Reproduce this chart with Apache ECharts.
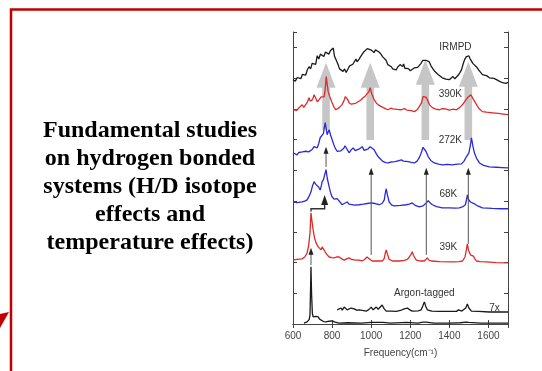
<!DOCTYPE html>
<html>
<head>
<meta charset="utf-8">
<script src="https://cdn.jsdelivr.net/npm/echarts@6/dist/echarts.min.js"></script>
<style>
html, body { margin: 0; padding: 0; background: #fff; }
#chart { width: 542px; height: 371px; }
</style>
</head>
<body>
<div id="chart"></div>
<script>
// x: frequency (cm-1), y: stacked intensity (arb. units, traces already offset)
const freqTicks = [600, 800, 1000, 1200, 1400, 1600]

const irmpd = [[600,7.95],[612,7.90],[622,8.02],[631,8.05],[640,7.98],[648,8.12],[657,8.18],[665,8.10],[674,8.28],[682,8.37],[690,8.30],[698,8.48],[708,8.53],[716,8.45],[724,8.73],[732,8.62],[740,8.78],[750,8.76],[758,8.70],[766,8.85],[775,8.83],[783,8.78],[792,8.90],[800,8.86],[806,8.98],[812,8.72],[820,8.70],[830,8.45],[838,8.30],[846,8.27],[856,8.22],[864,8.30],[872,8.18],[880,8.28],[890,8.40],[897,8.37],[906,8.45],[915,8.50],[922,8.62],[928,8.53],[938,8.62],[946,8.70],[954,8.76],[962,8.85],[970,8.88],[980,8.96],[990,8.99],[998,8.92],[1006,8.86],[1015,8.83],[1022,8.92],[1031,8.96],[1040,8.85],[1050,8.78],[1058,8.70],[1067,8.66],[1076,8.58],[1085,8.44],[1094,8.40],[1103,8.37],[1110,8.30],[1118,8.34],[1128,8.27],[1136,8.36],[1142,8.30],[1148,8.44],[1154,8.50],[1160,8.38],[1166,8.46],[1172,8.32],[1180,8.27],[1190,8.31],[1200,8.24],[1210,8.27],[1220,8.33],[1230,8.29],[1238,8.35],[1246,8.37],[1255,8.48],[1264,8.58],[1272,8.63],[1280,8.58],[1288,8.60],[1297,8.53],[1306,8.40],[1316,8.30],[1325,8.22],[1333,8.18],[1342,8.12],[1352,8.06],[1364,8.01],[1372,8.04],[1382,7.97],[1392,8.00],[1400,7.95],[1410,7.99],[1418,8.05],[1428,7.98],[1436,8.01],[1446,8.10],[1454,8.18],[1462,8.27],[1470,8.45],[1478,8.60],[1487,8.70],[1494,8.64],[1500,8.72],[1507,8.62],[1513,8.60],[1520,8.48],[1528,8.52],[1538,8.37],[1548,8.28],[1558,8.20],[1569,8.11],[1578,8.06],[1590,8.08],[1605,8.01],[1615,7.97],[1628,7.99],[1641,7.95],[1655,7.90],[1665,7.92],[1672,7.85],[1682,7.88],[1690,7.83],[1700,7.86]]

const k390 = [[600,6.97],[610,7.00],[620,6.95],[631,7.04],[640,7.00],[647,7.13],[655,7.05],[662,7.07],[672,7.20],[682,7.36],[688,7.25],[693,7.20],[700,7.30],[708,7.46],[716,7.35],[724,7.23],[734,7.30],[744,7.39],[752,7.34],[759,7.39],[764,7.60],[770,8.05],[775,7.80],[780,7.56],[788,7.40],[800,7.20],[810,7.05],[820,6.97],[828,7.02],[836,7.04],[844,7.10],[850,7.13],[860,7.25],[868,7.40],[872,7.46],[880,7.30],[887,7.20],[898,7.15],[908,7.13],[920,7.18],[933,7.23],[946,7.28],[959,7.36],[970,7.42],[980,7.46],[988,7.55],[995,7.69],[1002,7.50],[1015,7.30],[1025,7.20],[1036,7.13],[1050,7.08],[1062,7.04],[1075,7.00],[1087,6.97],[1100,7.02],[1112,7.00],[1122,7.04],[1135,6.98],[1145,7.02],[1154,6.97],[1170,7.01],[1182,6.96],[1190,7.00],[1205,6.94],[1221,6.91],[1235,6.97],[1246,7.07],[1258,7.20],[1265,7.40],[1272,7.46],[1280,7.38],[1287,7.30],[1300,7.12],[1313,7.04],[1330,6.99],[1349,6.97],[1365,7.01],[1380,7.00],[1400,6.96],[1420,6.99],[1436,6.97],[1452,7.04],[1467,7.13],[1480,7.25],[1492,7.36],[1502,7.42],[1510,7.46],[1520,7.34],[1533,7.20],[1550,7.02],[1569,6.91],[1590,6.89],[1620,6.87],[1650,6.85],[1675,6.83],[1700,6.81]]

const k272 = [[600,5.57],[610,5.52],[621,5.50],[630,5.58],[640,5.64],[648,5.60],[657,5.57],[665,5.62],[672,5.67],[680,5.60],[688,5.57],[698,5.68],[708,5.77],[716,5.72],[724,5.73],[732,5.88],[739,6.06],[744,6.02],[749,6.00],[756,6.20],[760,6.40],[765,6.55],[770,6.35],[775,6.16],[780,6.25],[785,6.32],[792,6.15],[800,6.00],[808,5.85],[815,5.73],[826,5.62],[836,5.57],[844,5.63],[851,5.67],[860,5.72],[866,5.80],[872,5.80],[880,5.65],[887,5.57],[897,5.66],[908,5.73],[918,5.64],[928,5.60],[940,5.70],[954,5.77],[964,5.65],[974,5.60],[985,5.70],[995,5.77],[1005,5.72],[1015,5.67],[1025,5.55],[1036,5.44],[1050,5.35],[1062,5.28],[1075,5.25],[1087,5.24],[1100,5.27],[1110,5.26],[1122,5.28],[1138,5.31],[1154,5.34],[1165,5.30],[1175,5.33],[1190,5.28],[1205,5.26],[1221,5.24],[1235,5.30],[1246,5.41],[1258,5.60],[1265,5.75],[1272,5.80],[1280,5.62],[1292,5.44],[1305,5.32],[1323,5.24],[1345,5.20],[1364,5.18],[1390,5.19],[1415,5.18],[1440,5.20],[1462,5.21],[1475,5.30],[1487,5.44],[1500,5.57],[1507,5.80],[1513,6.06],[1520,5.80],[1528,5.57],[1540,5.38],[1554,5.24],[1575,5.16],[1605,5.11],[1640,5.10],[1670,5.09],[1700,5.08]]

const k68 = [[600,3.97],[620,3.95],[646,3.97],[660,4.00],[672,4.04],[682,4.15],[692,4.30],[700,4.50],[708,4.63],[716,4.55],[724,4.53],[732,4.45],[739,4.36],[745,4.50],[749,4.63],[756,4.70],[762,4.85],[769,5.02],[775,4.75],[785,4.46],[792,4.28],[800,4.14],[810,4.06],[820,4.04],[826,4.08],[831,4.10],[840,3.97],[851,3.88],[862,3.92],[870,3.98],[877,3.97],[887,3.90],[897,3.88],[915,3.87],[938,3.88],[960,3.90],[980,3.92],[1000,3.94],[1020,3.92],[1041,3.88],[1056,3.92],[1067,4.04],[1072,4.25],[1077,4.40],[1083,4.20],[1092,3.97],[1105,3.87],[1118,3.84],[1150,3.86],[1180,3.88],[1195,3.90],[1210,3.94],[1225,3.86],[1246,3.81],[1265,3.84],[1282,3.94],[1292,4.01],[1302,3.94],[1313,3.88],[1335,3.82],[1364,3.78],[1400,3.78],[1430,3.77],[1451,3.78],[1470,3.82],[1482,3.88],[1488,4.05],[1492,4.20],[1498,4.05],[1508,3.97],[1518,3.94],[1528,3.91],[1545,3.84],[1569,3.78],[1620,3.76],[1660,3.75],[1700,3.75]]

const k39 = [[600,2.08],[620,2.10],[646,2.12],[660,2.18],[672,2.31],[680,2.55],[687,2.96],[692,3.62],[697,3.35],[703,3.06],[710,2.80],[718,2.64],[724,2.60],[729,2.51],[736,2.47],[744,2.41],[749,2.51],[756,2.45],[764,2.35],[775,2.25],[785,2.18],[798,2.16],[810,2.15],[822,2.18],[836,2.18],[850,2.12],[862,2.08],[875,2.12],[887,2.15],[900,2.10],[920,2.08],[938,2.08],[954,2.05],[966,2.10],[979,2.18],[990,2.12],[1005,2.05],[1030,2.05],[1056,2.05],[1066,2.12],[1072,2.30],[1077,2.41],[1083,2.28],[1092,2.10],[1110,2.05],[1144,2.05],[1170,2.07],[1185,2.10],[1195,2.18],[1203,2.26],[1210,2.35],[1217,2.22],[1231,2.08],[1250,2.05],[1272,2.05],[1280,2.10],[1287,2.15],[1295,2.08],[1308,2.05],[1350,2.03],[1415,2.02],[1450,2.03],[1467,2.05],[1480,2.18],[1487,2.41],[1492,2.61],[1498,2.40],[1508,2.25],[1516,2.24],[1523,2.21],[1530,2.12],[1538,2.05],[1560,2.03],[1590,2.02],[1640,2.00],[1700,1.99]]

const argon = [[656,0.03],[672,0.07],[683,0.15],[687,0.30],[690,1.20],[692,1.86],[695,1.00],[699,0.35],[703,0.23],[710,0.20],[718,0.25],[724,0.26],[729,0.23],[736,0.16],[744,0.10],[756,0.08],[769,0.07],[785,0.09],[800,0.10],[815,0.06],[836,0.03],[880,0.04],[950,0.03],[1000,0.05],[1060,0.05],[1100,0.03],[1180,0.05],[1240,0.03],[1264,0.06],[1272,0.12],[1280,0.06],[1320,0.03],[1400,0.03],[1455,0.04],[1485,0.06],[1492,0.10],[1500,0.05],[1560,0.03],[1640,0.03],[1700,0.03]]

const argon7x = [[826,0.46],[836,0.50],[846,0.52],[852,0.45],[862,0.55],[870,0.50],[877,0.46],[887,0.50],[897,0.52],[905,0.47],[913,0.49],[925,0.45],[938,0.46],[955,0.44],[974,0.42],[986,0.46],[1000,0.55],[1010,0.46],[1018,0.50],[1026,0.55],[1036,0.48],[1046,0.52],[1056,0.62],[1066,0.50],[1077,0.42],[1100,0.42],[1128,0.41],[1150,0.44],[1169,0.49],[1185,0.52],[1198,0.46],[1210,0.42],[1240,0.43],[1256,0.46],[1265,0.60],[1272,0.72],[1279,0.58],[1287,0.46],[1310,0.42],[1349,0.41],[1400,0.41],[1436,0.41],[1447,0.46],[1456,0.52],[1464,0.42],[1472,0.42],[1484,0.52],[1492,0.65],[1500,0.52],[1513,0.42],[1550,0.41],[1605,0.39],[1650,0.39],[1700,0.39]]

// [freq, from, to]
const greyArrows = [[769,6.32,8.50],[995,5.99,8.50],[1277,5.99,8.60],[1497,5.99,8.53]]
const thinArrows = [[769,5.11,5.77],[1000,2.25,5.08],[1282,2.25,5.08],[1497,2.61,5.08],[692,1.92,2.48]]
const stepArrow = [[692,3.66],[692,3.75],[762,3.75],[762,4.20]]

const traceLabels = [[1431,8.99,'IRMPD'],[1405,7.46,'390K'],[1405,5.99,'272K'],[1395,4.23,'68K'],[1395,2.51,'39K'],[1272,1.01,'Argon-tagged'],[1631,0.52,'7x']]

const titleLines = ['Fundamental studies', 'on hydrogen bonded', 'systems (H/D isotope', 'effects and', 'temperature effects)']

const chart = echarts.init(document.getElementById('chart'))

const trace = (data, color) => ({
  type: 'line',
  data: data,
  showSymbol: false,
  symbol: 'none',
  z: 3,
  lineStyle: { color: color, width: 1.3 },
  animation: false
})

const axisCommon = {
  type: 'value',
  axisLine: { show: true, lineStyle: { color: '#444', width: 1 } },
  axisTick: { show: true, inside: true, length: 4, lineStyle: { color: '#444' } },
  splitLine: { show: false }
}

const option = {
  animation: false,
  grid: { left: 293, top: 32, right: 34, bottom: 47 },
  xAxis: [
    {
      ...axisCommon,
      min: 600,
      max: 1700,
      interval: 200,
      position: 'bottom',
      axisLabel: {
        color: '#444',
        fontSize: 10,
        fontFamily: 'Liberation Sans',
        margin: 7,
        showMaxLabel: false,
        formatter: v => (freqTicks.includes(v) ? String(v) : '')
      },
      name: 'Frequency(cm⁻¹)',
      nameLocation: 'middle',
      nameGap: 24,
      nameTextStyle: { color: '#444', fontSize: 10, fontFamily: 'Liberation Sans' }
    },
    {
      ...axisCommon,
      min: 600,
      max: 1700,
      interval: 200,
      position: 'top',
      axisLabel: { show: false }
    }
  ],
  yAxis: [
    { ...axisCommon, min: 0, max: 9.5, interval: 1, position: 'left', axisLabel: { show: false } },
    { ...axisCommon, min: 0, max: 9.5, interval: 1, position: 'right', axisLabel: { show: false } }
  ],
  series: [
    {
      // broad grey arrows behind the traces
      type: 'custom',
      z: 1,
      data: greyArrows,
      encode: { x: 0, y: [1, 2] },
      renderItem: (params, api) => {
        const a = api.coord([api.value(0), api.value(1)])
        const b = api.coord([api.value(0), api.value(2)])
        const x = a[0]
        const hy = b[1] + 25
        return {
          type: 'polygon',
          shape: { points: [[x - 3.8, a[1]], [x - 3.8, hy], [x - 9.5, hy], [x, b[1]], [x + 9.5, hy], [x + 3.8, hy], [x + 3.8, a[1]]] },
          style: { fill: '#c6c6c6' }
        }
      }
    },
    trace(irmpd, '#1a1a1a'),
    trace(k390, '#de2a2a'),
    trace(k272, '#2a2ad8'),
    trace(k68, '#2a2ad8'),
    trace(k39, '#de2a2a'),
    trace(argon, '#1a1a1a'),
    trace(argon7x, '#1a1a1a'),
    {
      type: 'custom',
      z: 4,
      data: thinArrows,
      encode: { x: 0, y: [1, 2] },
      renderItem: (params, api) => {
        const a = api.coord([api.value(0), api.value(1)])
        const b = api.coord([api.value(0), api.value(2)])
        const x = a[0]
        return {
          type: 'group',
          children: [
            { type: 'line', shape: { x1: x, y1: a[1], x2: x, y2: b[1] + 5 }, style: { stroke: '#555', lineWidth: 1 } },
            { type: 'polygon', shape: { points: [[x - 2.5, b[1] + 7], [x, b[1]], [x + 2.5, b[1] + 7]] }, style: { fill: '#222' } }
          ]
        }
      }
    },
    {
      type: 'custom',
      z: 4,
      data: [stepArrow[0]],
      renderItem: (params, api) => {
        const pts = stepArrow.map(p => api.coord(p))
        const tip = pts[pts.length - 1]
        const body = pts.slice(0, -1).concat([[tip[0], tip[1] + 8]])
        return {
          type: 'group',
          children: [
            { type: 'polyline', shape: { points: body }, style: { stroke: '#333', lineWidth: 1.4, fill: null } },
            { type: 'polygon', shape: { points: [[tip[0] - 3.5, tip[1] + 10], tip, [tip[0] + 3.5, tip[1] + 10]] }, style: { fill: '#222' } }
          ]
        }
      }
    },
    {
      type: 'custom',
      z: 5,
      data: traceLabels.map(d => [d[0], d[1]]),
      renderItem: (params, api) => {
        const p = api.coord([api.value(0), api.value(1)])
        return {
          type: 'text',
          x: p[0],
          y: p[1],
          style: {
            text: traceLabels[params.dataIndex][2],
            fill: '#333',
            font: '10px "Liberation Sans"',
            align: 'center',
            verticalAlign: 'middle'
          }
        }
      }
    }
  ],
  graphic: [
    {
      type: 'polyline',
      shape: { points: [[11, 371], [11, 9.5], [542, 9.5]] },
      style: { stroke: '#c00000', lineWidth: 2.5, fill: null }
    },
    {
      type: 'polygon',
      shape: { points: [[0, 314], [9, 312], [0, 328]] },
      style: { fill: '#c00000' }
    },
    {
      type: 'text',
      x: 150,
      y: 187,
      style: {
        text: titleLines.join('\n'),
        font: 'bold 24px "Liberation Serif"',
        lineHeight: 28,
        fill: '#000',
        align: 'center',
        verticalAlign: 'middle'
      }
    }
  ]
}

chart.setOption(option)
</script>
</body>
</html>
